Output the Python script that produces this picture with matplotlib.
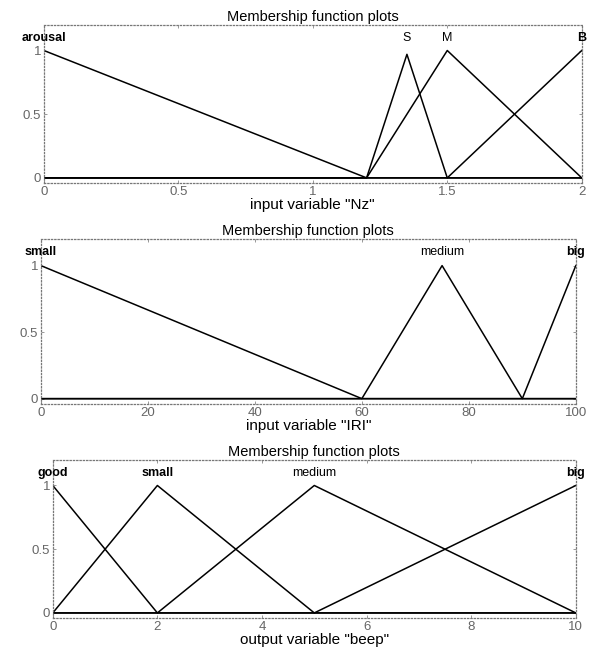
import matplotlib
matplotlib.use("Agg")
import matplotlib.pyplot as plt

# top panel: input "Nz"
nz_x = [0, 1.2, 1.35, 1.5, 2]
nz_mfs = {
    'arousal': [1, 0, 0, 0, 0],
    'S': [0, 0, 0.97, 0, 0],
    'M': [0, 0, 0.5, 1, 0],
    'B': [0, 0, 0, 0, 1],
}
nz_peaks = {'arousal': 0, 'S': 1.35, 'M': 1.5, 'B': 2}
nz_ticks = [0, 0.5, 1, 1.5, 2]

# middle panel: input "IRI"
iri_x = [0, 60, 75, 90, 100]
iri_mfs = {
    'small': [1, 0, 0, 0, 0],
    'medium': [0, 0, 1, 0, 0],
    'big': [0, 0, 0, 0, 1],
}
iri_peaks = {'small': 0, 'medium': 75, 'big': 100}
iri_ticks = [0, 20, 40, 60, 80, 100]

# bottom panel: output "beep"
beep_x = [0, 2, 5, 10]
beep_mfs = {
    'good': [1, 0, 0, 0],
    'small': [0, 1, 0, 0],
    'medium': [0, 0, 1, 0],
    'big': [0, 0, 0, 1],
}
beep_peaks = {'good': 0, 'small': 2, 'medium': 5, 'big': 10}
beep_ticks = [0, 2, 4, 6, 8, 10]

bold_names = ['arousal', 'B', 'small', 'big', 'good']

plt.rcParams['font.family'] = ['Liberation Sans', 'DejaVu Sans']

fig = plt.figure(figsize=(5.93, 6.5), dpi=100)

panels = [
    ([0.074, 0.7185, 0.907, 0.243], nz_x, nz_mfs, nz_peaks, nz_ticks, 'input variable "Nz"', ['0', '0.5', '1', '1.5', '2']),
    ([0.069, 0.3785, 0.902, 0.2538], iri_x, iri_mfs, iri_peaks, iri_ticks, 'input variable "IRI"', None),
    ([0.089, 0.0492, 0.882, 0.2431], beep_x, beep_mfs, beep_peaks, beep_ticks, 'output variable "beep"', None),
]

for pos, xs, mfs, peaks, ticks, xlabel, ticklabels in panels:
    ax = fig.add_axes(pos)
    for name in mfs:
        ax.plot(xs, mfs[name], color='black', lw=1.1)
        weight = 'bold' if name in bold_names else 'normal'
        ax.text(peaks[name], 1.1, name, ha='center', va='center',
                fontsize=9, fontweight=weight, color='black')
    ax.set_xlim(xs[0], xs[-1])
    ax.set_ylim(-0.04, 1.2)
    ax.set_xticks(ticks)
    if ticklabels:
        ax.set_xticklabels(ticklabels)
    ax.set_yticks([0, 0.5, 1])
    ax.set_yticklabels(['0', '0.5', '1'])
    ax.tick_params(direction='in', length=2.5, width=0.6, labelsize=9.5,
                   labelcolor='#666666', color='#888888', pad=2,
                   top=True, right=True)
    for sp in ax.spines.values():
        sp.set_linestyle(':')
        sp.set_color('#777777')
        sp.set_linewidth(0.9)
    ax.set_title('Membership function plots', fontsize=10.5, pad=3)
    ax.set_xlabel(xlabel, fontsize=11, labelpad=0)

fig.savefig('out.png', dpi=100)
